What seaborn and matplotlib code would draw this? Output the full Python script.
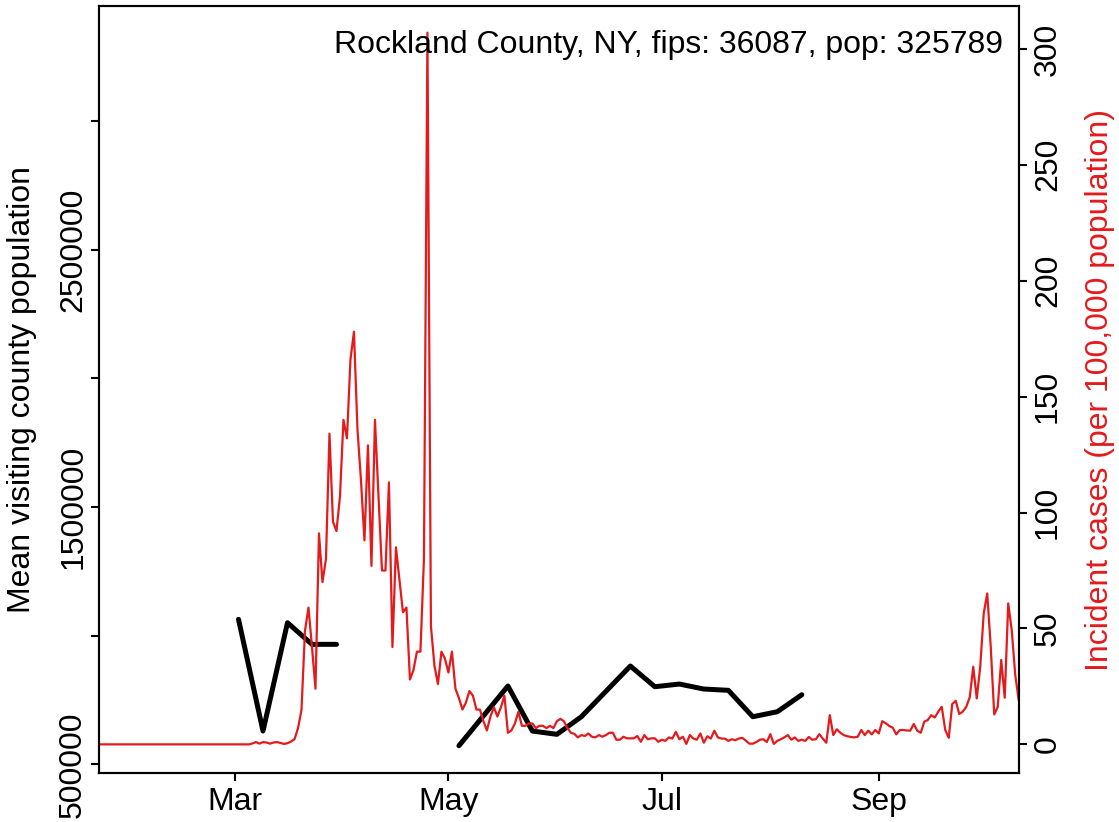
import numpy as np
import pandas as pd
import matplotlib
matplotlib.use("Agg")
import matplotlib.pyplot as plt
import seaborn as sns

# ---------------- data ----------------
title_text = "Rockland County, NY, fips: 36087, pop: 325789"
left_label = "Mean visiting county population"
right_label = "Incident cases (per 100,000 population)"

case_start = "2020-01-22"
# daily incident cases per 100k, Jan 22 - Mar 4
cases_jan_mar = [0, 0, 0, 0, 0, 0, 0, 0, 0, 0,
                 0, 0, 0, 0, 0, 0, 0, 0, 0, 0,
                 0, 0, 0, 0, 0, 0, 0, 0, 0, 0,
                 0, 0, 0, 0, 0, 0, 0, 0, 0, 0,
                 0, 0, 0, 0]
# Mar 5 - Apr 27
cases_mar_apr = [0.4, 1.0, 0.3, 1.0, 0.8, 0.3, 0.8, 1.0, 0.6, 0.2, 0.5,
                 1.2, 2.2, 6.9, 14.8,
                 49, 59, 42, 24, 91, 70, 80, 134, 96, 92,
                 107, 140, 132, 166, 178, 136, 114, 88, 129, 77,
                 140, 108, 75, 75, 113, 42, 85, 71, 57, 59,
                 28, 32, 40, 40, 80, 307, 51, 34, 26]
# Apr 28 - Jun 29
cases_may_jun = [40, 37, 31, 40, 24, 20, 15, 18, 23, 21,
                 15, 15, 10, 6, 12, 16, 12, 16, 21, 5,
                 6, 9, 14, 8, 8, 9, 9, 7, 8, 8,
                 7, 8, 7, 10, 11, 10, 7, 5, 4.5, 3,
                 4, 3.6, 4.7, 3.3, 3, 4, 3.3, 4, 5, 5,
                 2, 2, 3.3, 2.6, 2.6, 2.6, 3.6, 1.1, 4, 2.2,
                 2.6, 2.6, 1.1]
# Jun 30 - Aug 25
cases_jul_aug = [2.0, 1.5, 3.0, 2.5, 5.4, 2.2, 3.3, 0.2, 4.0, 2.5,
                 2.0, 4.7, 0.7, 3.5, 2.5, 5.9, 3.0, 2.5, 2.5, 1.5,
                 2.2, 1.8, 2.5, 2.8, 1.6, 0.3, 0.3, 1.0, 2.0, 2.2,
                 1.0, 4.4, 0.2, 1.5, 2.2, 3.0, 4.0, 2.0, 3.0, 1.5,
                 2.0, 1.5, 3.2, 2.0, 2.2, 4.4, 2.5, 0.7, 12.6, 4.0,
                 6.5, 5.0, 4.0, 3.5, 3.2, 3.0, 3.3]
# Aug 26 - Oct 11
cases_sep_oct = [6.2, 4.0, 5.9, 4.3, 6.2, 4.7, 10.0, 9.1, 7.9, 7.2,
                 4.3, 6.2, 6.2, 6.0, 5.9, 8.8, 5.9, 5.0, 9.8, 10.5,
                 12.6, 11.6, 14.1, 16.2, 6.2, 2.8, 17.4, 18.8, 13.1, 14.1,
                 16.2, 20.3, 33.5, 19.8, 33.5, 56.5, 65.1, 42.1, 12.9, 16.2,
                 36.4, 20.1, 60.8, 49.3, 30.0, 19.1]

# weekly mean visiting population (two observed stretches)
visit_dates = ["2020-03-02", "2020-03-09", "2020-03-16", "2020-03-23", "2020-03-30",
               "2020-05-04", "2020-05-18", "2020-05-25", "2020-06-01", "2020-06-08",
               "2020-06-22", "2020-06-29", "2020-07-06", "2020-07-13", "2020-07-20",
               "2020-07-27", "2020-08-03", "2020-08-10"]
visit_values = [1063500, 629400, 1050300, 966300, 966300,
                572300, 804300, 629400, 616600, 685000,
                882000, 801600, 812000, 792600, 787600,
                685000, 704400, 770500]
visit_segment = [1, 1, 1, 1, 1,
                 2, 2, 2, 2, 2, 2, 2, 2, 2, 2, 2, 2, 2]

x_tick_dates = ["2020-03-01", "2020-05-01", "2020-07-01", "2020-09-01"]
x_tick_labels = ["Mar", "May", "Jul", "Sep"]
left_ticks = [500000, 1000000, 1500000, 2000000, 2500000, 3000000]
left_tick_labels = ["500000", "", "1500000", "", "2500000", ""]
right_ticks = [0, 50, 100, 150, 200, 250, 300]
right_tick_labels = ["0", "50", "100", "150", "200", "250", "300"]

# ---------------- frames ----------------
cases = cases_jan_mar + cases_mar_apr + cases_may_jun + cases_jul_aug + cases_sep_oct
case_df = pd.DataFrame({"date": pd.date_range(case_start, periods=len(cases), freq="D"),
                        "cases": cases})
visit_df = pd.DataFrame({"date": pd.to_datetime(visit_dates),
                         "visitors": visit_values,
                         "segment": visit_segment})

# ---------------- style ----------------
sns.set_style("ticks")
plt.rcParams["font.family"] = ["Liberation Sans", "DejaVu Sans"]
plt.rcParams["font.size"] = 23
for key in ("text.color", "axes.labelcolor", "xtick.color", "ytick.color",
            "xtick.labelcolor", "ytick.labelcolor", "axes.edgecolor"):
    plt.rcParams[key] = "black"
FS = 23
RED = "#E41A1C"

fig = plt.figure(figsize=(11.19, 8.22), dpi=100)
ax = fig.add_axes([0.0887, 0.0592, 0.822, 0.9335])
ax2 = ax.twinx()

sns.lineplot(data=visit_df, x="date", y="visitors", units="segment", estimator=None,
             color="black", linewidth=3.6, ax=ax, legend=False)
sns.lineplot(data=case_df, x="date", y="cases", color=RED, linewidth=1.6,
             ax=ax2, legend=False)

mar1 = pd.Timestamp("2020-03-01")
ax.set_xlim(mar1 - pd.Timedelta(days=38.8), mar1 + pd.Timedelta(days=224.1))
ax.set_ylim(465000, 3446900)
ax2.set_ylim(-12.5, 318.5)

ax.set_xticks(pd.to_datetime(x_tick_dates))
ax.set_xticklabels(x_tick_labels)
ax.set_yticks(left_ticks)
ax.set_yticklabels(left_tick_labels)
ax2.set_yticks(right_ticks)
ax2.set_yticklabels(right_tick_labels)

for a in (ax, ax2):
    for s in a.spines.values():
        s.set_linewidth(1.5)
        s.set_color("black")
    a.grid(False)
ax.tick_params(axis="both", length=6, width=1.5, color="black", labelcolor="black",
               labelsize=FS)
ax.tick_params(axis="x", pad=4)
ax.tick_params(axis="y", labelrotation=90, pad=2)
ax2.tick_params(axis="y", length=6, width=1.5, color="black", labelcolor="black",
                labelsize=FS, labelrotation=90, pad=4)
for lbl in ax.get_yticklabels():
    lbl.set_va("center")
for lbl in ax2.get_yticklabels():
    lbl.set_va("center")

ax.set_xlabel("")
ax.set_ylabel(left_label, fontsize=FS, color="black")
ax.yaxis.set_label_coords(-0.068, 0.5)
ax2.set_ylabel(right_label, color=RED, fontsize=FS)
ax2.yaxis.set_label_coords(1.072, 0.5)

ax2.text(0.982, 0.949, title_text, transform=ax.transAxes, ha="right", va="center",
         fontsize=FS, color="black")

fig.savefig("out.png", dpi=100)
